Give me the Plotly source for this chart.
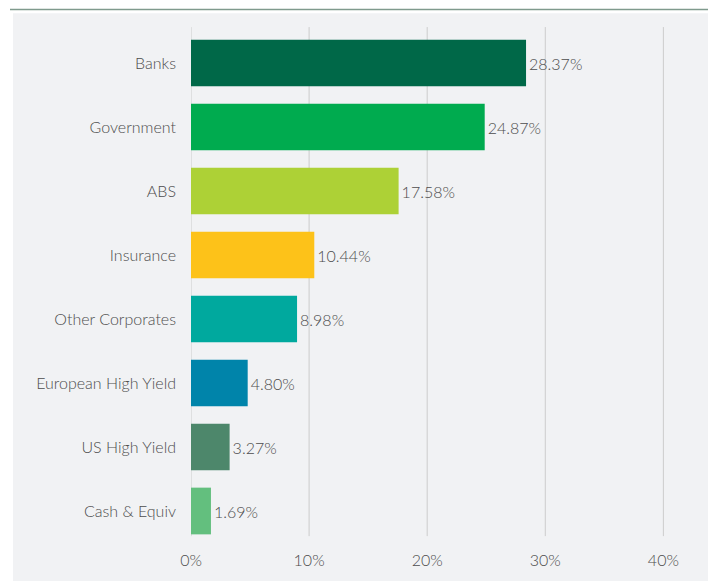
import plotly.graph_objects as go

categories = ["Banks", "Government", "ABS", "Insurance", "Other Corporates",
              "European High Yield", "US High Yield", "Cash & Equiv"]
values = [28.37, 24.87, 17.58, 10.44, 8.98, 4.80, 3.27, 1.69]
colors = ["#006848", "#00ab4f", "#add136", "#fdc219", "#00a99e",
          "#0084aa", "#4d876b", "#63bf7e"]
tick_vals = [0, 10, 20, 30, 40]
tick_text = ["0%", "10%", "20%", "30%", "40%"]

OFF = 8  # page body margin
W, H = 716 - OFF, 581 - OFF
ML, MR, MT, MB = 191 - OFF, 29, 31 - OFF, 581 - 552
pw = W - ML - MR
ph = H - MT - MB

def px_x(p):
    return (p - OFF - ML) / pw

def px_y(p):
    return (H - MB - (p - OFF)) / ph

FONT = dict(family="Lato", size=16, color="#4d4d4d", weight=300)

fig = go.Figure(go.Bar(
    y=categories, x=values, orientation="h",
    marker=dict(color=colors, line=dict(width=0)),
    text=[f"{v:.2f}%" for v in values], textposition="outside",
    textfont=FONT,
    width=0.73, cliponaxis=False,
))

shapes = [
    dict(type="rect", xref="paper", yref="paper", layer="below",
         x0=px_x(13), x1=px_x(740), y0=px_y(13), y1=px_y(600),
         fillcolor="#f1f2f4", line=dict(width=0)),
    dict(type="line", xref="paper", yref="paper",
         x0=px_x(10), x1=px_x(740), y0=px_y(9), y1=px_y(9),
         line=dict(color="#7f9a8d", width=1.5)),
]
for tv in tick_vals:
    shapes.append(dict(type="line", xref="x", yref="paper", layer="below",
                       x0=tv, x1=tv, y0=px_y(545), y1=px_y(27),
                       line=dict(color="#cccccc", width=1)))

fig.update_layout(
    width=W, height=H,
    margin=dict(l=ML, r=MR, t=MT, b=MB, pad=0),
    paper_bgcolor="white", plot_bgcolor="rgba(0,0,0,0)",
    font=FONT,
    showlegend=False,
    xaxis=dict(range=[0, 42], tickvals=tick_vals, ticktext=tick_text,
               showgrid=False, zeroline=False,
               showline=False, ticks="", ticklabelstandoff=6,
               tickfont=FONT),
    yaxis=dict(autorange="reversed", showgrid=False, showline=False, ticks="",
               ticklabelstandoff=14, tickfont=FONT),
    shapes=shapes,
)

fig.write_html("out.html")
